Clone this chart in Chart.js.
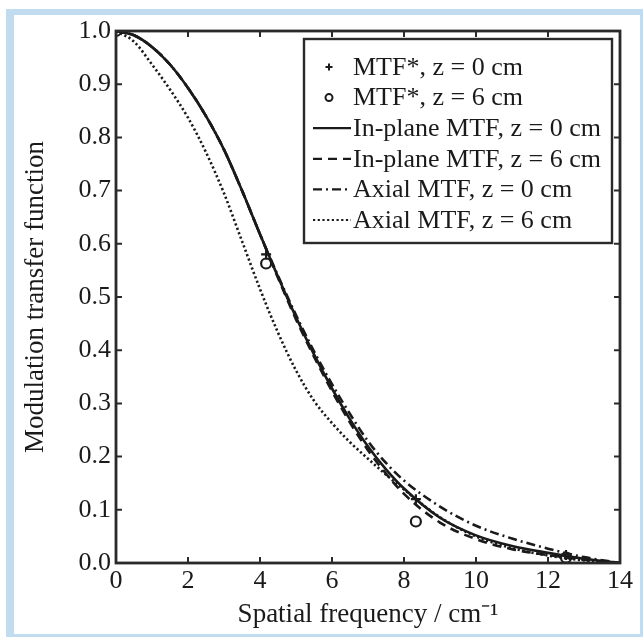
<!DOCTYPE html>
<html>
<head>
<meta charset="utf-8">
<script src="https://cdn.jsdelivr.net/npm/chart.js@4/dist/chart.umd.min.js"></script>
<style>
  html, body { margin: 0; padding: 0; background: #fff; }
  #frame {
    position: absolute; left: 6px; top: 9px; right: 0; bottom: 0;
    border-style: solid; border-color: #c0dcee;
    border-width: 6px 3px 3px 8px;
  }
  #wrap { position: absolute; left: 0; top: 0; width: 643px; height: 637px; }
</style>
</head>
<body>
<div id="frame"></div>
<div id="wrap"><canvas id="myChart" width="643" height="637"></canvas></div>
<script>
// spatial frequency (cm^-1) for the curves
var freq = [0, 0.5, 1, 1.5, 2, 2.5, 3, 3.5, 4, 4.5, 5, 5.5, 6, 6.5, 7, 7.5, 8, 9, 10, 11, 12, 13, 14];
var inPlane0 = [1.0, 0.992, 0.97, 0.937, 0.893, 0.84, 0.777, 0.7, 0.618, 0.538, 0.462, 0.392, 0.328, 0.27, 0.219, 0.176, 0.14, 0.085, 0.052, 0.032, 0.019, 0.008, 0.0];
var inPlane6 = [1.0, 0.992, 0.97, 0.937, 0.893, 0.84, 0.777, 0.7, 0.618, 0.536, 0.458, 0.388, 0.323, 0.264, 0.212, 0.168, 0.13, 0.076, 0.045, 0.026, 0.015, 0.006, 0.0];
var axial0 = [1.0, 0.992, 0.97, 0.937, 0.893, 0.84, 0.777, 0.7, 0.618, 0.54, 0.466, 0.398, 0.336, 0.28, 0.229, 0.188, 0.155, 0.106, 0.07, 0.046, 0.027, 0.011, 0.0];
var axial6 = [1.0, 0.98, 0.937, 0.89, 0.837, 0.772, 0.695, 0.605, 0.515, 0.433, 0.362, 0.305, 0.263, 0.227, 0.196, 0.166, 0.138, 0.086, 0.05, 0.028, 0.014, 0.005, 0.0];

// MTF* measured points
var starFreq = [0, 4.17, 8.33, 12.5];
var star0 = [1.0, 0.58, 0.12, 0.015];
var star6 = [1.0, 0.563, 0.078, 0.01];

var labels = [
  "MTF*, z = 0 cm",
  "MTF*, z = 6 cm",
  "In-plane MTF, z = 0 cm",
  "In-plane MTF, z = 6 cm",
  "Axial MTF, z = 0 cm",
  "Axial MTF, z = 6 cm"
];

var ink = "#1a1a1a";
var serif = "'Liberation Serif', 'Times New Roman', serif";

function pts(xs, ys) {
  var out = [];
  for (var i = 0; i < xs.length; i++) out.push({ x: xs[i], y: ys[i] });
  return out;
}

function lineSet(label, ys, dash) {
  return {
    label: label,
    data: pts(freq, ys),
    borderColor: ink,
    borderWidth: 2.6,
    borderDash: dash,
    pointRadius: 0,
    fill: false,
    cubicInterpolationMode: "monotone"
  };
}

// inward ticks, box frame and the legend
var framePlugin = {
  id: "frame",
  afterDraw: function (chart) {
    var ctx = chart.ctx;
    var ca = chart.chartArea;
    var xs = chart.scales.x, ys = chart.scales.y;
    ctx.save();
    ctx.strokeStyle = "#2a2a2a";
    ctx.lineWidth = 2.8;
    ctx.setLineDash([]);
    ctx.strokeRect(ca.left, ca.top, ca.right - ca.left, ca.bottom - ca.top);
    ctx.lineWidth = 2;
    var tl = 6;
    ctx.beginPath();
    xs.ticks.forEach(function (t) {
      var px = xs.getPixelForValue(t.value);
      ctx.moveTo(px, ca.bottom); ctx.lineTo(px, ca.bottom - tl);
      ctx.moveTo(px, ca.top); ctx.lineTo(px, ca.top + tl);
    });
    ys.ticks.forEach(function (t) {
      var py = ys.getPixelForValue(t.value);
      ctx.moveTo(ca.left, py); ctx.lineTo(ca.left + tl, py);
      ctx.moveTo(ca.right, py); ctx.lineTo(ca.right - tl, py);
    });
    ctx.stroke();

    // legend
    var bx = ca.left + 188, by = ca.top + 8, bw = 308, bh = 204;
    ctx.fillStyle = "#fff";
    ctx.fillRect(bx, by, bw, bh);
    ctx.lineWidth = 2.4;
    ctx.strokeStyle = "#2a2a2a";
    ctx.strokeRect(bx, by, bw, bh);
    ctx.font = "26px " + serif;
    ctx.textBaseline = "middle";
    chart.data.datasets.forEach(function (ds, i) {
      var cy = by + 28 + i * 30.6;
      ctx.strokeStyle = ink;
      ctx.fillStyle = ink;
      if (ds.showLine === false) {
        ctx.setLineDash([]);
        ctx.lineWidth = 2;
        ctx.beginPath();
        if (ds.pointStyle === "cross") {
          ctx.moveTo(bx + 25 - 3.5, cy); ctx.lineTo(bx + 25 + 3.5, cy);
          ctx.moveTo(bx + 25, cy - 3.5); ctx.lineTo(bx + 25, cy + 3.5);
        } else {
          ctx.arc(bx + 25, cy, 3.5, 0, Math.PI * 2);
        }
        ctx.stroke();
      } else {
        ctx.lineWidth = 2.2;
        ctx.setLineDash(ds.borderDash || []);
        ctx.beginPath();
        ctx.moveTo(bx + 9, cy); ctx.lineTo(bx + 47, cy);
        ctx.stroke();
      }
      ctx.setLineDash([]);
      ctx.fillText(ds.label, bx + 49, cy + 1);
    });
    ctx.restore();
  }
};

var ctx = document.getElementById("myChart").getContext("2d");
var myChart = new Chart(ctx, {
  type: "line",
  data: {
    datasets: [
      {
        label: labels[0],
        data: pts(starFreq, star0),
        showLine: false,
        pointStyle: "cross",
        pointRadius: 5,
        borderWidth: 2.2,
        borderColor: ink,
        backgroundColor: "transparent"
      },
      {
        label: labels[1],
        data: pts(starFreq, star6),
        showLine: false,
        pointStyle: "circle",
        pointRadius: 5,
        borderWidth: 2.2,
        borderColor: ink,
        backgroundColor: "transparent"
      },
      lineSet(labels[2], inPlane0, []),
      lineSet(labels[3], inPlane6, [9, 6]),
      lineSet(labels[4], axial0, [9, 4, 2, 4]),
      lineSet(labels[5], axial6, [2.2, 2.5])
    ]
  },
  options: {
    responsive: false,
    animation: false,
    devicePixelRatio: 1,
    layout: { padding: { left: 0, top: 31, right: 23, bottom: 0 } },
    plugins: {
      legend: { display: false },
      tooltip: { enabled: false }
    },
    scales: {
      x: {
        type: "linear",
        min: 0,
        max: 14,
        afterFit: function (s) { s.height = 74; },
        grid: { display: false, drawTicks: false },
        border: { display: false },
        ticks: {
          stepSize: 2,
          color: ink,
          padding: 3,
          font: { family: serif, size: 26 }
        },
        title: {
          display: true,
          text: "Spatial frequency / cm\u207B\u00B9",
          color: ink,
          padding: { top: 0, bottom: 6 },
          font: { family: serif, size: 27 }
        }
      },
      y: {
        type: "linear",
        min: 0,
        max: 1,
        afterFit: function (s) { s.width = 116; },
        grid: { display: false, drawTicks: false },
        border: { display: false },
        ticks: {
          stepSize: 0.1,
          color: ink,
          padding: 5,
          font: { family: serif, size: 26 },
          callback: function (v) { return v.toFixed(1); }
        },
        title: {
          display: true,
          text: "Modulation transfer function",
          color: ink,
          padding: { top: 20, bottom: 0 },
          font: { family: serif, size: 27 }
        }
      }
    }
  },
  plugins: [framePlugin]
});
</script>
</body>
</html>
